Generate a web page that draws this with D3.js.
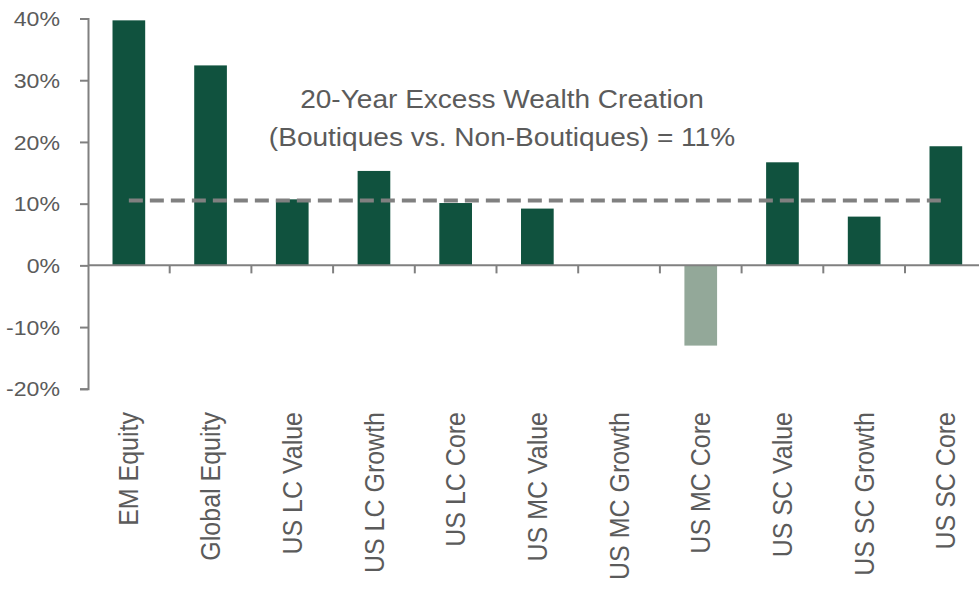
<!DOCTYPE html>
<html>
<head>
<meta charset="utf-8">
<script src="https://cdn.jsdelivr.net/npm/d3@7"></script>
<style>
  html, body { margin: 0; padding: 0; background: #ffffff; }
  svg { display: block; }
  text { font-family: "Liberation Sans", Arial, sans-serif; fill: #5b5b5b; }
</style>
</head>
<body>
<svg id="chart" width="979" height="589"></svg>
<script>
// ---- data ----
const categories = ["EM Equity", "Global Equity", "US LC Value", "US LC Growth", "US LC Core",
  "US MC Value", "US MC Growth", "US MC Core", "US SC Value", "US SC Growth", "US SC Core"];
const excessWealth = [39.7, 32.4, 10.7, 15.3, 10.1, 9.2, 0, -13.0, 16.7, 7.9, 19.3];
const averageExcess = 10.5;
const yTickValues = [-20, -10, 0, 10, 20, 30, 40];
const annotationLines = ["20-Year Excess Wealth Creation", "(Boutiques vs. Non-Boutiques) = 11%"];

// ---- layout ----
const svg = d3.select("#chart");
const axisX = 88, step = 81.7;
const y = d3.scaleLinear().domain([-20, 40]).range([388.8, 18.5]);
const x = d3.scaleBand().domain(categories)
  .range([axisX, axisX + step * categories.length])
  .paddingInner(0.6).paddingOuter(0.3);

const axisColor = "#808080";
const posColor = "#10523e", negColor = "#93a899";
const stretch = 1.1;

// bars
svg.append("g").selectAll("rect").data(categories).join("rect")
  .attr("x", d => x(d))
  .attr("width", x.bandwidth())
  .attr("y", (d, i) => y(Math.max(0, excessWealth[i])))
  .attr("height", (d, i) => Math.abs(y(excessWealth[i]) - y(0)))
  .attr("fill", (d, i) => excessWealth[i] < 0 ? negColor : posColor);

// y axis
const yAxis = svg.append("g").attr("transform", `translate(${axisX},0)`)
  .call(d3.axisLeft(y).tickValues(yTickValues).tickSize(8).tickSizeOuter(8)
    .tickFormat(d => d + "%"));
yAxis.selectAll("path, line").attr("stroke", axisColor).attr("stroke-width", 2);
yAxis.selectAll("text")
  .attr("x", 0)
  .attr("dy", "0.34em")
  .attr("transform", `translate(-28,0) scale(${stretch},1)`)
  .style("font-size", "21px")
  .style("font-family", '"Liberation Sans", Arial, sans-serif')
  .attr("fill", "#5b5b5b");

// x axis line and boundary ticks
const xEnd = x.range()[1];
svg.append("line")
  .attr("x1", axisX).attr("x2", xEnd)
  .attr("y1", y(0)).attr("y2", y(0))
  .attr("stroke", axisColor).attr("stroke-width", 2);
svg.append("g").selectAll("line").data(categories).join("line")
  .attr("x1", d => x(d) + x.bandwidth() / 2 + x.step() / 2)
  .attr("x2", d => x(d) + x.bandwidth() / 2 + x.step() / 2)
  .attr("y1", y(0)).attr("y2", y(0) + 8)
  .attr("stroke", axisColor).attr("stroke-width", 2);

// category labels (rotated)
svg.append("g").selectAll("text").data(categories).join("text")
  .attr("transform", d => `translate(${x(d) + x.bandwidth() / 2},412) scale(${stretch},1) rotate(-90)`)
  .attr("text-anchor", "end")
  .attr("dy", "0.35em")
  .style("font-size", "25px")
  .text(d => d);

// average dashed line
const first = categories[0], last = categories[categories.length - 1];
svg.append("line")
  .attr("x1", x(first) + x.bandwidth() / 2)
  .attr("x2", x(last) + x.bandwidth() / 2)
  .attr("y1", y(averageExcess)).attr("y2", y(averageExcess))
  .attr("stroke", axisColor).attr("stroke-width", 4)
  .attr("stroke-dasharray", "14,7");

// annotation
svg.append("g").selectAll("text").data(annotationLines).join("text")
  .attr("transform", (d, i) => `translate(502,${108 + i * 38}) scale(${stretch},1)`)
  .attr("text-anchor", "middle")
  .style("font-size", "25.5px")
  .text(d => d);
</script>
</body>
</html>
